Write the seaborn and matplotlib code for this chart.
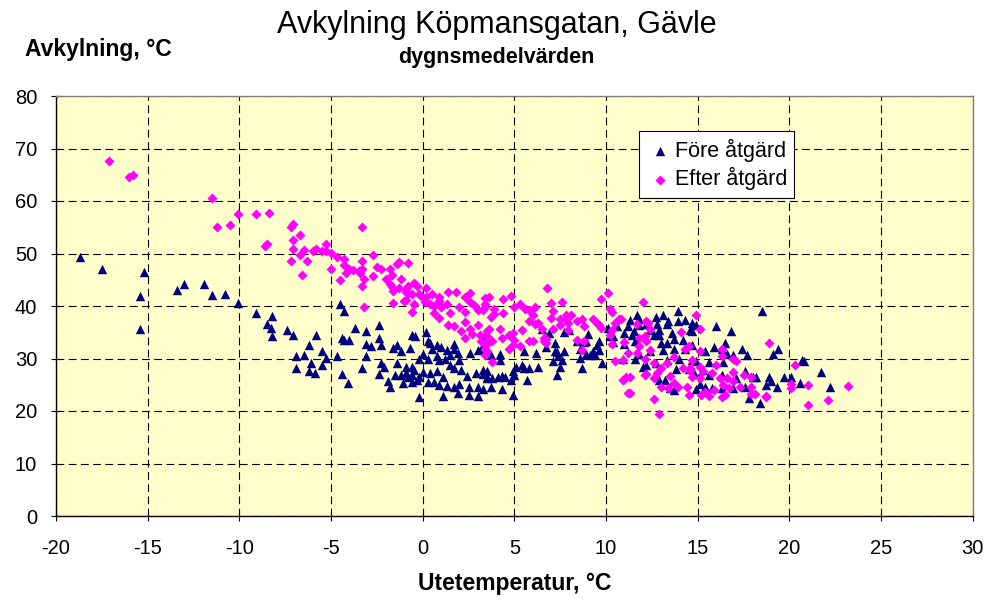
"""
plot.py
Avkylning Köpmansgatan, Gävle - daily mean cooling vs outdoor temperature,
before and after the measure. Values read off the original chart.
"""

import matplotlib

matplotlib.use("Agg")
import matplotlib.pyplot as plt
import pandas as pd
import seaborn as sns

# Före åtgärd (before), outdoor temp / cooling
fore_x = [
    -18.7, -17.5, -15.2, -15.4, -15.4, -13.4, -13.0, -11.9, -11.5, -10.8, -10.1, -9.1,
    -8.2, -8.5, -8.3, -8.2, -7.4, -7.1, -5.8, -6.2, -6.9, -6.5, -5.5, -5.3, -6.1, -5.5,
    -6.9, -6.2, -5.9, -4.7, -4.5, -4.3, -4.4, -4.3, -4.0, -3.7, -3.1, -2.4, -2.4, -3.1,
    -2.8, -2.3, -3.1, -3.3, -4.4, -4.1, -2.3, -2.1, -2.4, -1.9, -1.8, -1.6, -1.4, -1.2,
    -0.7, -0.6, -0.4, -1.4, -1.5, -1.2, -1.1, -0.9, -0.6, -0.6, -0.3,
    0.2, 0.3, 0.4, 0.8, 1.0, 0.5, 1.7, 1.7, 1.3, 0.0, -0.2, 0.3, 0.8, 0.9, 1.2, 1.5, 1.9,
    2.0, 2.6, 3.0, 3.4, -0.9, -0.5, 0.0, 0.4, 0.8, 1.1, 1.5, 1.7, 2.1, 2.4, 2.9, 3.3,
    3.5, 0.3, 0.6, 0.9, 1.3, 1.7, 2.0, 2.5, 3.0, -0.2, 1.1, 1.9, 2.5, 3.0, -0.6, -0.8,
    -0.2,
    3.2, 3.4, 4.2, 4.2, 3.7, 5.5, 6.2, 7.2, 7.3, 7.4, 6.7, 6.9, 6.5, 7.7, 8.0, 7.6, 7.5,
    7.3, 6.3, 5.8, 5.5, 5.4, 5.1, 4.9, 5.7, 5.0, 4.8, 4.5, 4.3, 4.1, 3.8, 3.5, 3.3, 3.5,
    3.7, 4.3, 4.9, 3.3,
    7.2, 7.7, 7.1, 8.4, 8.8, 9.0, 8.9, 8.6, 8.6, 8.9, 9.1, 9.3, 9.5, 9.6, 9.6, 9.4, 8.7,
    9.8, 10.1, 10.6, 10.2, 10.4, 11.0, 11.3, 11.2, 11.5, 11.7, 11.8, 11.8, 11.4, 11.6,
    11.0, 12.2, 12.4, 12.6, 12.7, 12.8, 12.9, 12.9, 13.1, 13.3, 13.4, 13.6, 13.0, 13.3,
    13.7, 13.9, 13.9, 14.2, 14.3, 14.6, 14.7, 14.3, 14.7, 14.0, 13.8, 14.5, 14.8, 14.9,
    13.7, 13.2, 12.7, 13.3, 12.4, 11.8, 12.2, 13.1, 13.7, 10.9, 10.4, 11.6, 12.0, 13.5,
    12.9,
    18.5, 16.0, 16.8, 14.7, 14.9, 14.7, 15.4, 15.9, 16.5, 16.3, 16.6, 16.9, 17.4, 17.7,
    19.4, 19.1, 20.7, 20.8, 21.7, 22.2, 15.6, 16.4, 14.9, 17.6, 18.0, 18.2, 18.9, 19.0,
    18.7, 19.3, 19.7, 20.1, 20.6, 17.6, 17.1, 16.3, 15.6, 15.3, 15.1, 15.4, 15.8, 16.3,
    16.9, 17.8, 18.4,
]
fore_y = [
    49.4, 47.0, 46.5, 42.0, 35.6, 43.1, 44.2, 44.2, 42.1, 42.3, 40.6, 38.6,
    38.1, 36.6, 35.8, 34.2, 35.4, 34.5, 34.4, 32.6, 30.5, 30.6, 31.4, 30.1, 29.2, 28.8,
    28.1, 27.6, 27.2, 30.5, 40.3, 39.0, 34.0, 33.5, 33.5, 35.9, 35.3, 36.3, 34.0, 32.8,
    32.3, 32.5, 30.4, 28.1, 27.0, 25.3, 29.2, 28.3, 27.0, 25.8, 24.6, 32.0, 32.5, 31.5,
    32.0, 34.5, 34.3, 29.1, 26.8, 26.8, 25.3, 28.4, 28.4, 26.9, 25.9,
    35.0, 33.3, 32.9, 32.5, 32.1, 31.9, 32.8, 31.8, 31.6, 30.9, 30.0, 30.0, 30.4, 29.7,
    30.0, 30.6, 31.0, 29.8, 31.0, 31.6, 34.4, 27.2, 27.8, 27.4, 27.2, 27.6, 26.4, 28.7,
    28.1, 27.9, 26.7, 27.2, 27.8, 26.5, 25.5, 25.5, 25.0, 24.8, 24.6, 25.1, 24.6, 24.5,
    22.7, 22.9, 23.5, 23.1, 22.9, 25.5, 26.4, 26.4,
    31.9, 31.9, 30.9, 29.7, 30.6, 31.4, 31.1, 32.9, 31.2, 30.4, 32.1, 34.8, 35.6, 35.0,
    35.4, 29.7, 28.4, 26.8, 28.4, 28.2, 28.1, 28.7, 28.3, 27.7, 25.9, 26.8, 25.9, 26.4,
    26.7, 26.5, 26.3, 27.6, 27.0, 26.2, 24.6, 24.2, 23.1, 24.2,
    31.4, 31.4, 29.5, 33.3, 33.1, 34.7, 33.4, 31.9, 30.1, 30.9, 30.6, 31.5, 32.5, 31.6,
    33.3, 30.7, 28.1, 29.2, 35.8, 36.1, 34.3, 33.1, 34.8, 37.3, 36.2, 35.2, 38.2, 37.6,
    36.4, 34.5, 33.3, 32.8, 36.6, 35.4, 34.4, 38.0, 36.6, 35.4, 34.4, 38.3, 36.6, 37.2,
    34.8, 32.9, 32.9, 33.7, 39.0, 37.2, 33.5, 37.3, 35.4, 32.5, 31.8, 29.7, 30.0, 28.0,
    28.0, 27.2, 24.2, 24.0, 26.0, 29.1, 29.8, 31.4, 30.9, 28.8, 31.6, 31.9, 30.0, 34.2,
    30.0, 28.4, 24.4, 25.9,
    39.0, 36.1, 35.2, 36.7, 36.3, 35.2, 31.4, 32.1, 32.9, 31.8, 30.9, 30.6, 31.9, 30.7,
    31.9, 30.9, 29.8, 29.6, 27.4, 24.5, 29.3, 29.3, 29.5, 27.6, 26.4, 26.4, 26.4, 25.8,
    25.0, 24.5, 26.4, 26.4, 25.3, 24.5, 26.3, 26.8, 26.9, 27.8, 25.1, 24.6, 24.4, 24.4,
    24.4, 22.5, 21.5,
]

# Efter åtgärd (after)
efter_x = [
    -17.1, -16.0, -15.8, -11.5, -11.2, -10.5, -10.1, -9.1, -8.4, -7.1, -7.2, -6.7, -8.5,
    -8.6, -7.1, -7.1, -6.5, -6.0, -5.8, -5.5, -5.3, -5.3, -5.0, -4.7, -7.2, -6.7, -6.3,
    -6.6, -5.0, -4.5, -4.3, -4.3, -4.0, -3.8, -3.5, -3.3, -3.4, -3.2, -3.3, -2.7, -2.7,
    -3.3, -3.3, -4.2, -2.5, -2.3, -2.0, -1.8, -1.7, -1.4, -1.3, -0.8, -1.2, -1.8, -1.7,
    -1.6, -1.3, -0.9, -0.9, -0.8, -0.5, -0.3, -0.5, -0.6, -1.6, -3.2,
    -0.8, -0.9, -0.6, -1.0, -0.2, -0.1, 0.2, 0.2, 0.5, 0.1, 0.4, 0.6, 0.9, 1.0, 0.9, 1.4,
    1.8, 2.6, 2.3, 2.6, 1.3, 1.5, 2.0, 2.3, 2.8, 3.0, 3.3, 3.4, 1.4, 1.7, 2.1, 2.3, 2.6,
    2.7, 2.3, 3.0, 3.1, 3.2, 3.5, 3.5, 0.9, 0.6,
    6.8, 4.8, 4.4, 3.6, 3.4, 3.4, 3.9, 3.9, 3.7, 4.4, 5.0, 5.3, 5.6, 5.8, 6.1, 6.0, 5.8,
    6.1, 6.3, 6.5, 6.7, 6.6, 7.0, 7.6, 7.1, 7.0, 7.5, 7.8, 7.9, 7.1, 3.6, 3.5, 3.8, 4.2,
    4.3, 4.7, 4.9, 5.0, 4.9, 5.3, 4.7, 5.4, 5.8, 6.0, 3.3, 3.4, 3.4, 3.5, 3.8,
    7.8, 8.1, 7.9, 7.5, 6.6, 6.7, 8.4, 8.7, 8.8, 9.3, 9.5, 9.6, 9.7, 9.7, 10.1, 10.2,
    10.3, 10.3, 10.5, 10.7, 10.8, 10.2, 8.4, 8.8, 8.7, 10.5, 10.9, 10.3, 11.0, 11.2, 11.7,
    11.8, 11.8, 11.7, 12.0, 12.2, 12.3, 12.4, 12.1, 12.2, 12.1, 12.4, 12.6, 12.6, 11.1,
    10.9, 11.3, 12.1, 12.2, 12.8, 13.0, 13.3, 13.5, 13.7, 14.1, 14.3, 14.2, 14.5, 14.7,
    14.6, 14.9, 13.0, 13.4, 13.7, 13.9, 14.4, 14.5, 12.6, 12.9, 11.3, 10.9, 11.2,
    15.1, 18.9, 15.1, 16.3, 16.3, 16.9, 17.1, 16.0, 15.8, 15.1, 15.3, 14.6, 14.7, 15.1,
    16.2, 16.6, 16.9, 16.9, 16.4, 16.7, 17.3, 17.9, 17.5, 17.9, 16.5, 15.4, 15.6, 15.2,
    15.9, 16.3, 17.9, 18.1, 18.7, 18.7, 20.3, 20.1, 20.1, 21.0, 21.0, 22.1, 23.2,
]
efter_y = [
    67.7, 64.6, 65.0, 60.6, 55.1, 55.4, 57.5, 57.6, 57.8, 55.7, 55.1, 53.6, 51.9,
    51.4, 52.6, 50.9, 50.7, 50.5, 50.8, 50.4, 51.8, 50.5, 50.1, 49.4, 48.6, 49.7, 48.6,
    46.0, 47.0, 45.0, 48.9, 47.8, 47.1, 46.9, 46.6, 47.1, 46.2, 45.2, 43.9, 45.7, 49.7,
    48.5, 55.0, 46.2, 47.5, 47.1, 45.2, 47.1, 46.0, 48.0, 48.4, 48.1, 45.2, 44.1, 43.6,
    42.8, 43.4, 43.2, 41.1, 42.5, 44.3, 43.9, 40.3, 38.9, 40.5, 39.8,
    43.8, 42.7, 42.2, 41.0, 42.3, 41.9, 43.4, 41.7, 42.2, 40.7, 40.4, 40.0, 40.9, 39.9,
    41.8, 42.7, 42.7, 42.5, 41.7, 40.8, 40.4, 38.7, 39.9, 38.9, 40.1, 39.2, 39.2, 40.4,
    36.4, 36.1, 35.2, 37.0, 35.7, 34.7, 34.0, 36.3, 34.4, 33.4, 35.3, 32.8, 37.8, 38.6,
    43.4, 42.0, 41.4, 41.8, 41.5, 39.9, 39.4, 38.5, 38.0, 38.6, 39.8, 40.3, 39.5, 39.2,
    39.9, 38.2, 37.2, 36.6, 36.7, 35.7, 33.8, 33.3, 40.5, 40.8, 39.1, 37.8, 37.6, 38.2,
    35.4, 35.7, 35.7, 34.2, 33.4, 35.6, 34.0, 34.4, 34.9, 33.5, 32.5, 32.4, 31.9, 35.4,
    33.4, 33.4, 33.0, 31.9, 30.7, 31.4, 29.3,
    37.3, 38.3, 36.7, 36.4, 34.0, 32.9, 37.1, 37.5, 36.2, 37.5, 36.8, 36.3, 35.9, 41.4,
    42.4, 39.5, 38.9, 35.4, 36.7, 37.6, 37.6, 34.5, 33.5, 33.3, 31.6, 29.6, 29.8, 32.8,
    33.1, 31.0, 31.0, 32.4, 33.9, 36.6, 40.8, 37.1, 36.7, 35.6, 34.2, 33.4, 30.0, 31.6,
    29.1, 26.3, 26.4, 25.9, 23.5, 26.8, 27.0, 27.3, 28.2, 29.1, 26.7, 30.2, 35.0, 31.9,
    28.2, 32.3, 29.8, 27.7, 38.2, 24.6, 24.4, 25.4, 24.6, 24.5, 23.0, 22.3, 19.4, 26.5,
    26.0, 23.4,
    35.7, 32.9, 31.4, 31.8, 30.4, 30.0, 29.6, 28.8, 27.3, 28.4, 27.6, 28.1, 26.4, 26.3,
    26.2, 26.3, 27.4, 25.8, 25.0, 24.3, 24.5, 24.6, 26.8, 26.4, 23.0, 23.7, 22.9, 23.0,
    24.0, 22.6, 23.2, 23.2, 22.9, 22.6, 28.8, 24.3, 25.1, 25.0, 21.2, 22.1, 24.8,
]

x_ticks = list(range(-20, 31, 5))
y_ticks = list(range(0, 81, 10))

FONT = ["Liberation Sans", "DejaVu Sans"]

sns.set_theme(style="white")
plt.rcParams["font.family"] = FONT
plt.rcParams["axes.unicode_minus"] = False
plt.rcParams["text.color"] = "black"
plt.rcParams["axes.labelcolor"] = "black"

fore = pd.DataFrame({"ute": fore_x, "avk": fore_y})
efter = pd.DataFrame({"ute": efter_x, "avk": efter_y})

fig = plt.figure(figsize=(9.89, 6.0), dpi=100)
ax = fig.add_axes([0.0566, 0.14, 0.927, 0.70])
ax.set_facecolor("#FFFFCC")

sns.scatterplot(data=fore, x="ute", y="avk", marker="^", color="#000080",
                s=46, linewidth=0, label="Före åtgärd", ax=ax, zorder=3)
sns.scatterplot(data=efter, x="ute", y="avk", marker="D", color="#FF00FF",
                s=26, linewidth=0, label="Efter åtgärd", ax=ax, zorder=3)

ax.set_xlim(-20, 30)
ax.set_ylim(0, 80)
ax.set_xticks(x_ticks)
ax.set_yticks(y_ticks)
ax.grid(True, color="black", linestyle=(0, (7, 4)), linewidth=0.8)
ax.set_axisbelow(True)
ax.tick_params(direction="inout", length=7, width=0.8, colors="black",
               labelsize=14.5, left=True, bottom=True)
ax.tick_params(axis="x", pad=13)
ax.tick_params(axis="y", pad=10)

for side in ["top", "right"]:
    ax.spines[side].set_color("#808080")
for side in ["left", "bottom"]:
    ax.spines[side].set_color("black")
for sp in ax.spines.values():
    sp.set_linewidth(1.0)

ax.set_xlabel("Utetemperatur, °C", fontsize=16.5, fontweight="bold", labelpad=10)
ax.set_ylabel("")

leg = ax.legend(loc="upper left", bbox_to_anchor=(0.636, 0.916), fontsize=15.5,
                frameon=True, fancybox=False, edgecolor="black", framealpha=1,
                handletextpad=0.1, borderpad=0.35, labelspacing=0.25,
                handlelength=1.2, borderaxespad=0)
leg.get_frame().set_linewidth(0.8)

fig.text(0.502, 0.958, "Avkylning Köpmansgatan, Gävle", ha="center", va="center",
         fontsize=22)
fig.text(0.502, 0.905, "dygnsmedelvärden", ha="center", va="center",
         fontsize=15.5, fontweight="bold")
fig.text(0.025, 0.918, "Avkylning, °C", ha="left", va="center",
         fontsize=16.5, fontweight="bold")

fig.savefig("out.png", dpi=100)
plt.close(fig)
